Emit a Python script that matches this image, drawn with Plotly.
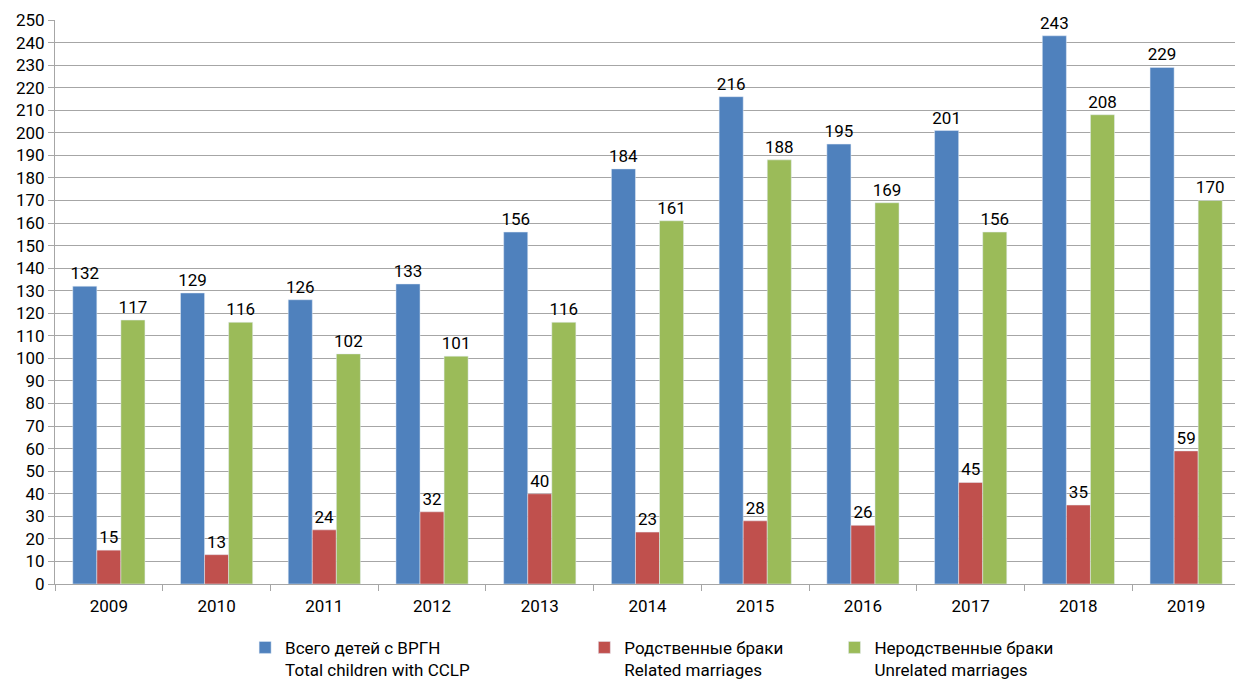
import plotly.graph_objects as go

years = ["2009", "2010", "2011", "2012", "2013", "2014", "2015", "2016", "2017", "2018", "2019"]
total = [132, 129, 126, 133, 156, 184, 216, 195, 201, 243, 229]
related = [15, 13, 24, 32, 40, 23, 28, 26, 45, 35, 59]
unrelated = [117, 116, 102, 101, 116, 161, 188, 169, 156, 208, 170]

pad1 = "&nbsp;" * 26
pad2 = "&nbsp;" * 16
names = ["Всего детей с ВРГН<br>Total children with CCLP" + pad1,
         "Родственные браки<br>Related marriages" + pad2,
         "Неродственные браки<br>Unrelated marriages"]
colors = ["#4F81BD", "#C0504D", "#9BBB59"]
FONT = "Roboto, Arial, sans-serif"

fig = go.Figure()
for name, vals, col in zip(names, [total, related, unrelated], colors):
    fig.add_trace(go.Bar(
        x=years, y=vals, name=name, marker_color=col,
        text=[str(v) for v in vals], textposition="outside",
        textfont=dict(size=17, color="#000", family=FONT),
        constraintext="none", cliponaxis=False,
    ))

fig.update_layout(
    width=1235, height=673,
    margin=dict(l=47, r=3, t=12, b=97, autoexpand=False),
    plot_bgcolor="white", paper_bgcolor="white",
    barmode="group", bargap=0.33, bargroupgap=0,
    font=dict(family=FONT, size=17, color="#000"),
    showlegend=True,
    legend=dict(orientation="h", x=0.192, xanchor="left", xref="container",
                y=0.076, yanchor="top", yref="container",
                font=dict(size=17), itemwidth=30, tracegroupgap=0, valign="top"),
)
fig.update_yaxes(range=[0, 250], dtick=10, showgrid=True, gridcolor="#A6A6A6", gridwidth=1,
                 showline=True, linecolor="#A6A6A6", ticks="outside", ticklen=6,
                 tickcolor="#A6A6A6", zeroline=False, tickfont=dict(size=17), automargin=False)
fig.update_xaxes(showline=True, linecolor="#A6A6A6", ticks="outside", tickson="boundaries",
                 ticklen=6, tickcolor="#A6A6A6", tickfont=dict(size=17), automargin=False,
                 ticklabelstandoff=7)

fig.write_html("out.html")
